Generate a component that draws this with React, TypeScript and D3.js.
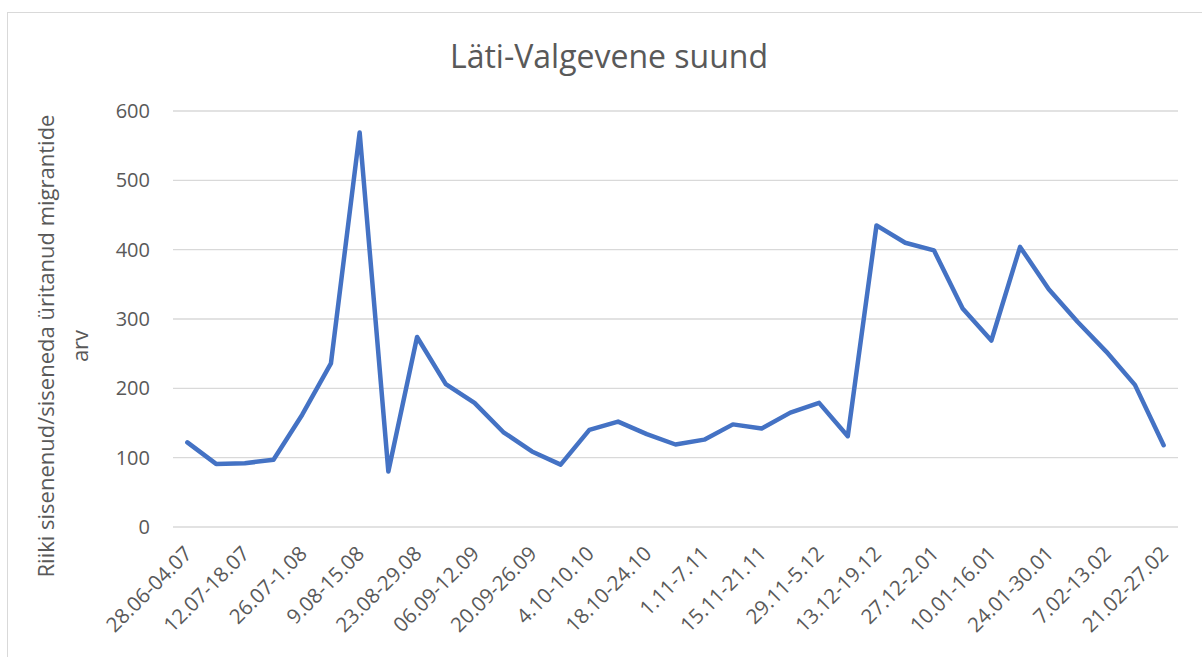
import React from 'react';
import * as d3 from 'd3';

const weeks = [
  '28.06-04.07', '05.07-11.07', '12.07-18.07', '19.07-25.07', '26.07-1.08',
  '2.08-8.08', '9.08-15.08', '16.08-22.08', '23.08-29.08', '30.08-05.09',
  '06.09-12.09', '13.09-19.09', '20.09-26.09', '27.09-3.10', '4.10-10.10',
  '11.10-17.10', '18.10-24.10', '25.10-31.10', '1.11-7.11', '8.11-14.11',
  '15.11-21.11', '22.11-28.11', '29.11-5.12', '6.12-12.12', '13.12-19.12',
  '20.12-26.12', '27.12-2.01', '3.01-9.01', '10.01-16.01', '17.01-23.01',
  '24.01-30.01', '31.01-6.02', '7.02-13.02', '14.02-20.02', '21.02-27.02',
];

const migrants = [
  122, 91, 92, 97, 162, 236, 569, 80, 274, 206,
  179, 137, 109, 90, 140, 152, 134, 119, 126, 148,
  142, 165, 179, 131, 435, 410, 399, 315, 269, 404,
  343, 296, 253, 205, 118,
];

const yTicks = [0, 100, 200, 300, 400, 500, 600];

const title = 'Läti-Valgevene suund';
const yTitle1 = 'Riiki sisenenud/siseneda üritanud migrantide';
const yTitle2 = 'arv';

const W = 1202;
const H = 657;
const font = '"Open Sans", sans-serif';
const textColor = '#595959';

export default function App() {
  const x = d3.scalePoint<string>().domain(weeks).range([173, 1178]).padding(0.5);
  const y = d3.scaleLinear().domain([0, 600]).range([527, 111]);

  const line = d3
    .line<number>()
    .x((_, i) => x(weeks[i]) as number)
    .y((d) => y(d));

  // only every other week gets a label
  const shown = weeks.filter((_, i) => i % 2 === 0);

  return (
    <svg
      width={W}
      height={H}
      style={{ position: 'absolute', left: 0, top: 0, background: '#fff' }}
      fontFamily={font}
    >
      <rect x={7.5} y={12.5} width={W + 20} height={H + 20} fill="#fff" stroke="#d9d9d9" />

      <text x={609} y={68} textAnchor="middle" fontSize={32} fill={textColor}>
        {title}
      </text>

      {yTicks.map((t) => (
        <g key={t}>
          <line x1={173} x2={1178} y1={y(t)} y2={y(t)} stroke="#d9d9d9" strokeWidth={1.3} />
          <text x={150} y={y(t)} dy="0.35em" textAnchor="end" fontSize={20} fill={textColor}>
            {t}
          </text>
        </g>
      ))}

      <text transform="translate(54,346) rotate(-90)" textAnchor="middle" fontSize={22} fill={textColor}>
        {yTitle1}
      </text>
      <text transform="translate(88,346) rotate(-90)" textAnchor="middle" fontSize={22} fill={textColor}>
        {yTitle2}
      </text>

      {shown.map((w) => (
        <text
          key={w}
          transform={`translate(${(x(w) as number) + 6},555) rotate(-45)`}
          textAnchor="end"
          fontSize={20.5}
          fill={textColor}
        >
          {w}
        </text>
      ))}

      <path
        d={line(migrants) || ''}
        fill="none"
        stroke="#4472C4"
        strokeWidth={4.5}
        strokeLinejoin="round"
        strokeLinecap="round"
      />
    </svg>
  );
}
